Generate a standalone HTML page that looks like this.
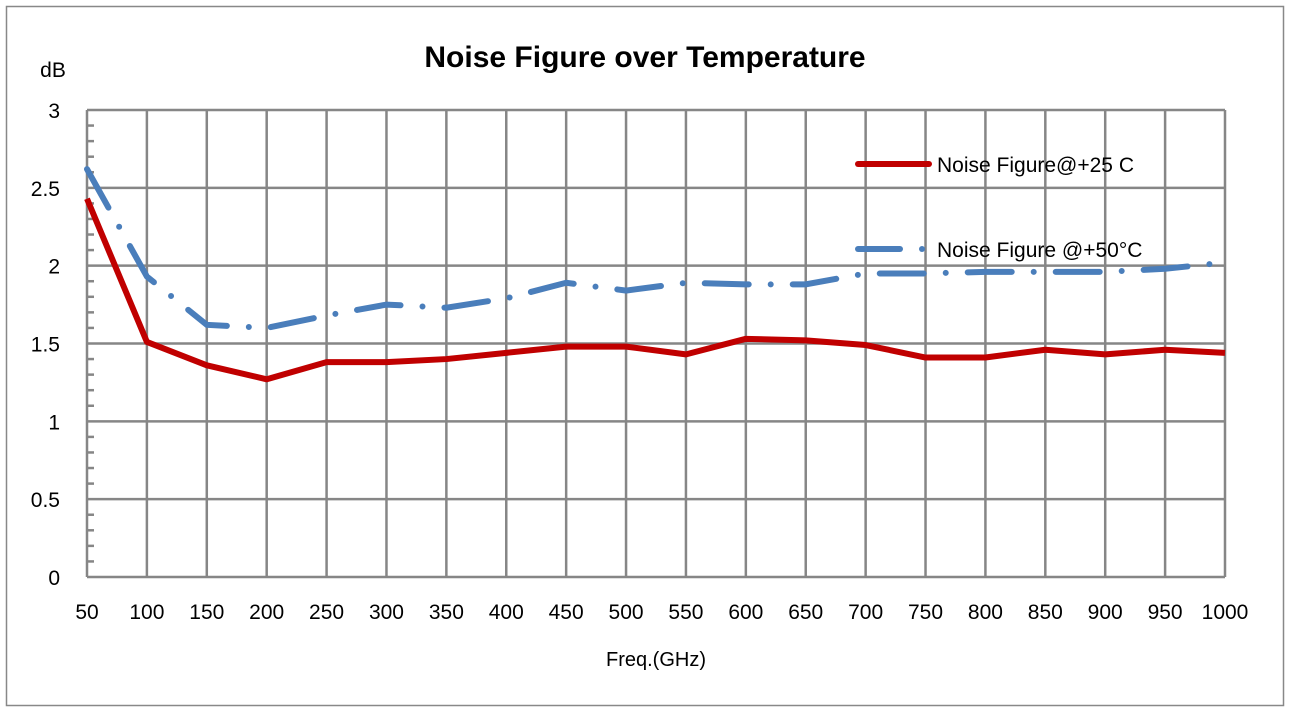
<!DOCTYPE html><html><head><style>body{margin:0;background:#fff}svg{display:block;font-family:"Liberation Sans",sans-serif}</style></head><body>
<svg width="1293" height="717" xmlns="http://www.w3.org/2000/svg">
<rect x="6.5" y="6.5" width="1277" height="699" fill="#fff" stroke="#888" stroke-width="1.5"/>
<text x="645" y="67" text-anchor="middle" font-size="30" font-weight="bold">Noise Figure over Temperature</text>
<text x="53" y="77" text-anchor="middle" font-size="21">dB</text>
<g stroke="#868686" stroke-width="2.5" id="g"></g>
<g id="lab" font-size="21" fill="#000"></g>
<text x="656" y="666" text-anchor="middle" font-size="20">Freq.(GHz)</text>
<polyline id="blue" fill="none" stroke="#4a7ebb" stroke-width="6" stroke-linecap="round" stroke-dasharray="44 22 0 22"/>
<polyline id="red" fill="none" stroke="#c00000" stroke-width="6" stroke-linejoin="round"/>
<line x1="858" y1="164" x2="929" y2="164" stroke="#c00000" stroke-width="6" stroke-linecap="round"/>
<text x="937" y="172" font-size="21">Noise Figure@+25 C</text>
<line x1="858" y1="249" x2="900" y2="249" stroke="#4a7ebb" stroke-width="6" stroke-linecap="round"/>
<circle cx="922" cy="249" r="3" fill="#4a7ebb"/>
<text x="937" y="257" font-size="21">Noise Figure @+50°C</text>
</svg>
<script>
const ns="http://www.w3.org/2000/svg",g=document.getElementById('g'),lab=document.getElementById('lab');
const X=i=>87+i*(1225-87)/19, Y=v=>577-v*155.67;
function el(p,t,a,txt){const e=document.createElementNS(ns,t);for(const k in a)e.setAttribute(k,a[k]);if(txt!==undefined)e.textContent=txt;p.appendChild(e);}
for(let i=0;i<20;i++){el(g,'line',{x1:X(i),y1:110,x2:X(i),y2:577});el(lab,'text',{x:X(i),y:619,'text-anchor':'middle'},String(50+i*50));}
for(let j=0;j<=6;j++){const y=Y(j/2);el(g,'line',{x1:87,y1:y,x2:1225,y2:y});el(lab,'text',{x:60,y:y+8,'text-anchor':'end'},String(j/2));}
for(let k=1;k<30;k++){if(k%5)el(g,'line',{x1:87,y1:Y(k/10),x2:94,y2:Y(k/10)});}
const r=[2.43,1.51,1.36,1.27,1.38,1.38,1.40,1.44,1.48,1.48,1.43,1.53,1.52,1.49,1.41,1.41,1.46,1.43,1.46,1.44];
const b=[2.62,1.93,1.62,1.60,1.68,1.75,1.73,1.79,1.89,1.84,1.89,1.88,1.88,1.95,1.95,1.96,1.96,1.96,1.98,2.02];
document.getElementById('red').setAttribute('points',r.map((v,i)=>X(i)+','+Y(v)).join(' '));
document.getElementById('blue').setAttribute('points',b.map((v,i)=>X(i)+','+Y(v)).join(' '));
</script>
</body></html>
